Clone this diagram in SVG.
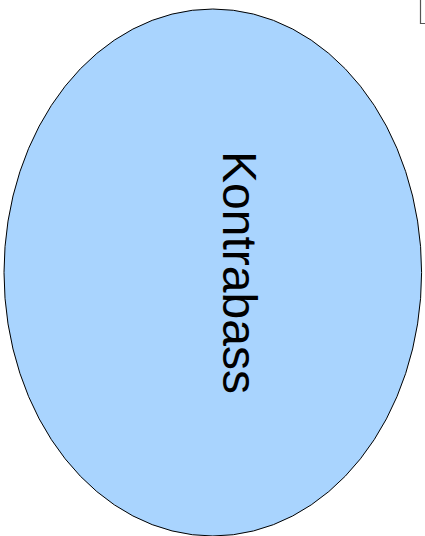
<svg xmlns="http://www.w3.org/2000/svg" width="425" height="536" viewBox="0 0 425 536">
<style>
.node{fill:#a9d4fe;stroke:#000;stroke-width:1}
.lbl{font-family:"Liberation Sans",Arial,sans-serif;font-size:48px;fill:#000}
</style>
<rect width="425" height="536" fill="#fff"/>
<g id="corner">
<path d="M420.5,0 V23.5 H425" fill="none" stroke="#555" stroke-width="1.2"/>
</g>
<g id="kontrabass">
<ellipse class="node" cx="212.8" cy="272.5" rx="208.8" ry="263.5"/>
<text class="lbl" transform="translate(223,272.5) rotate(90)" text-anchor="middle">Kontrabass</text>
</g>
<g id="connectors"></g>
</svg>
